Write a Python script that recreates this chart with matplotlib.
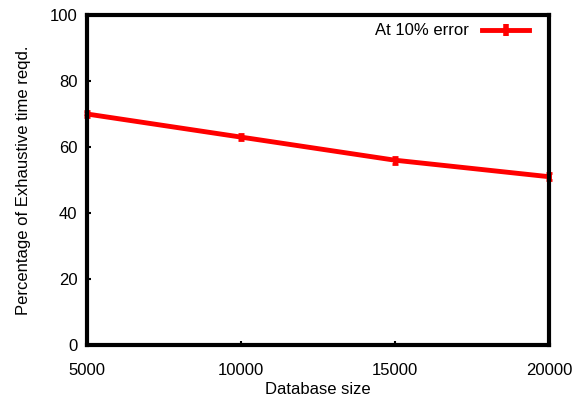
import matplotlib
matplotlib.use("Agg")
from matplotlib import pyplot as plt
from matplotlib.lines import Line2D

# database size vs. share of exhaustive search time
db_size = [5000, 10000, 15000, 20000]
pct_time = [70, 63, 56, 51]
pct_err = [1.0, 1.0, 1.0, 1.0]

x_ticks = [5000, 10000, 15000, 20000]
y_ticks = [0, 20, 40, 60, 80, 100]

plt.rcParams['font.family'] = ['Liberation Sans', 'DejaVu Sans']
plt.rcParams['font.size'] = 12

fig = plt.figure(figsize=(5.76, 4.0), dpi=100)
ax = fig.add_axes([0.151, 0.1375, 0.802, 0.825])

ax.errorbar(db_size, pct_time, yerr=pct_err, color="red", lw=3.5,
            elinewidth=3.5, capsize=2.5, capthick=2, clip_on=False)

ax.set_xlim(5000, 20000)
ax.set_ylim(0, 100)
ax.set_xticks(x_ticks)
ax.set_yticks(y_ticks)
ax.tick_params(direction="in", length=3, width=1.5, pad=7)
ax.tick_params(axis="x", pad=13)
for s in ax.spines.values():
    s.set_linewidth(3)
    s.set_zorder(3)

ax.set_xlabel("Database size", labelpad=3)
ax.set_ylabel("Percentage of Exhaustive time reqd.", labelpad=13)

# key: line with a small error tick in the middle
key = Line2D([], [], color="red", lw=3.5, marker="|", markersize=9,
             markeredgewidth=4)
ax.legend([key], ["At 10% error"], loc="upper right", frameon=False,
          markerfirst=False, handlelength=2.8, handletextpad=0.8,
          borderaxespad=0.2, borderpad=0.3, numpoints=1,
          bbox_to_anchor=(0.975, 1.0))

fig.savefig("out.png", dpi=100)
